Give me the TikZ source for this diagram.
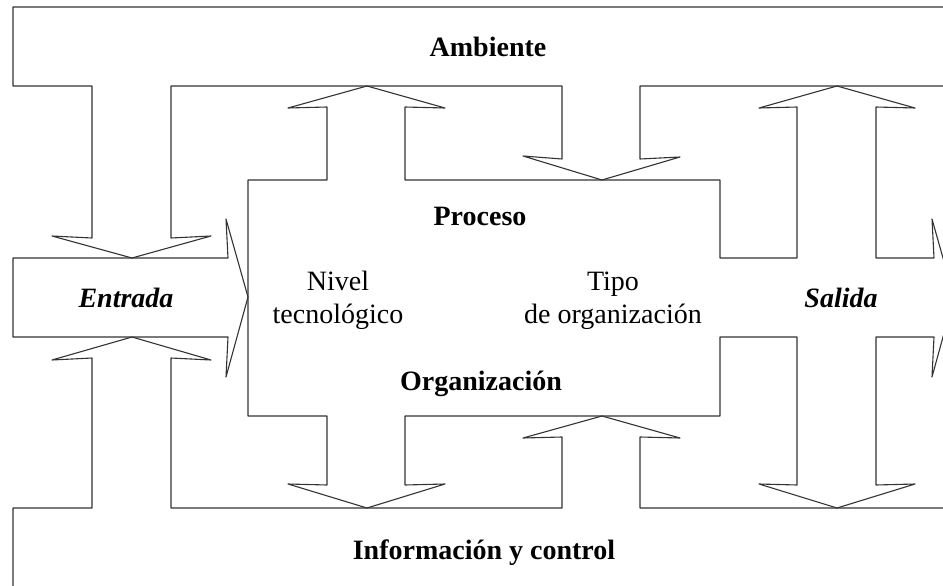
\documentclass[tikz,border=0pt]{standalone}
\usepackage{fontspec}
\setmainfont{Liberation Serif}
\usepackage{tikz}

\tikzset{
  outline/.style={draw=black!80, line width=1.1pt, line join=round},
  lbl/.style={font=\fontsize{28}{33}\selectfont, inner sep=0pt, anchor=base},
  ttl/.style={lbl, font=\fontsize{28}{33}\selectfont\bfseries},
  io/.style={lbl, font=\fontsize{28}{33}\selectfont\bfseries\itshape}
}

\begin{document}
\begin{tikzpicture}[x=1pt, y=-1pt]
\newcommand{\Xl}{13};
\newcommand{\Xr}{943};
\newcommand{\Ytop}{7};
\newcommand{\Yamb}{86};
\newcommand{\Ypt}{180};
\newcommand{\Yet}{258};
\newcommand{\Yeb}{337};
\newcommand{\Ypb}{416};
\newcommand{\Yinf}{508};
\useasboundingbox (0, 0) rectangle (943, 586);
\clip (0, 0) rectangle (943, 586);

% ambiente
\draw[outline] (\Xr, \Ytop) -- (\Xl, \Ytop) -- (\Xl, \Yamb) -- (92, \Yamb)
  -- (92, 238) -- (52, 236) -- (132, \Yet) -- (211, 236) -- (171, 238)
  -- (171, \Yamb) -- (562, \Yamb) -- (562, 159) -- (523, 156) -- (602, \Ypt)
  -- (680, 157) -- (640, 159) -- (640, \Yamb) -- (\Xr, \Yamb);
%

% entrada
\draw[outline] (\Xl, \Yet) -- (228, \Yet) -- (226, 219) -- (248, 297)
  -- (226, 377) -- (228, \Yeb) -- (\Xl, \Yeb) -- cycle;
%

% proceso + salida
\draw[outline] (248, \Ypt) -- (327, \Ypt) -- (327, 107) -- (288, 108)
  -- (367, \Yamb) -- (445, 108) -- (405, 107) -- (405, \Ypt) -- (720, \Ypt)
  -- (720, \Yet) -- (797, \Yet) -- (797, 107) -- (759, 108) -- (837, \Yamb)
  -- (915, 108) -- (876, 107) -- (876, \Yet) -- (934, \Yet) -- (932, 219)
  -- (954, 297) -- (932, 377) -- (934, \Yeb) -- (876, \Yeb) -- (876, 485)
  -- (915, 484) -- (837, \Yinf) -- (759, 484) -- (797, 485) -- (797, \Yeb)
  -- (720, \Yeb) -- (720, \Ypb) -- (405, \Ypb) -- (405, 485) -- (445, 484)
  -- (367, \Yinf) -- (288, 484) -- (327, 485) -- (327, \Ypb) -- (248, \Ypb)
  -- cycle;
%

% informacion y control
\draw[outline] (\Xl, 600) -- (\Xl, \Yinf) -- (92, \Yinf) -- (92, 358)
  -- (52, 360) -- (132, \Yeb) -- (211, 360) -- (171, 358) -- (171, \Yinf)
  -- (562, \Yinf) -- (562, 437) -- (523, 438) -- (602, \Ypb) -- (680, 438)
  -- (640, 437) -- (640, \Yinf) -- (\Xr, \Yinf);
%

% labels
\node[ttl] (amb) at (488, 57) {Ambiente};
\node[ttl] (proc) at (480, 225) {Proceso};
\node[ttl] (org) at (481, 390) {Organización};
\node[ttl] (info) at (484, 559) {Información y control};
\node[io] (ent) at (126, 307) {Entrada};
\node[io] (sal) at (841, 307) {Salida};
\node[lbl, align=center] (nivel) at (338, 323) {Nivel\\tecnológico};
\node[lbl, align=center] (tipo) at (613, 323) {Tipo\\de organización};
%
\end{tikzpicture}
\end{document}
